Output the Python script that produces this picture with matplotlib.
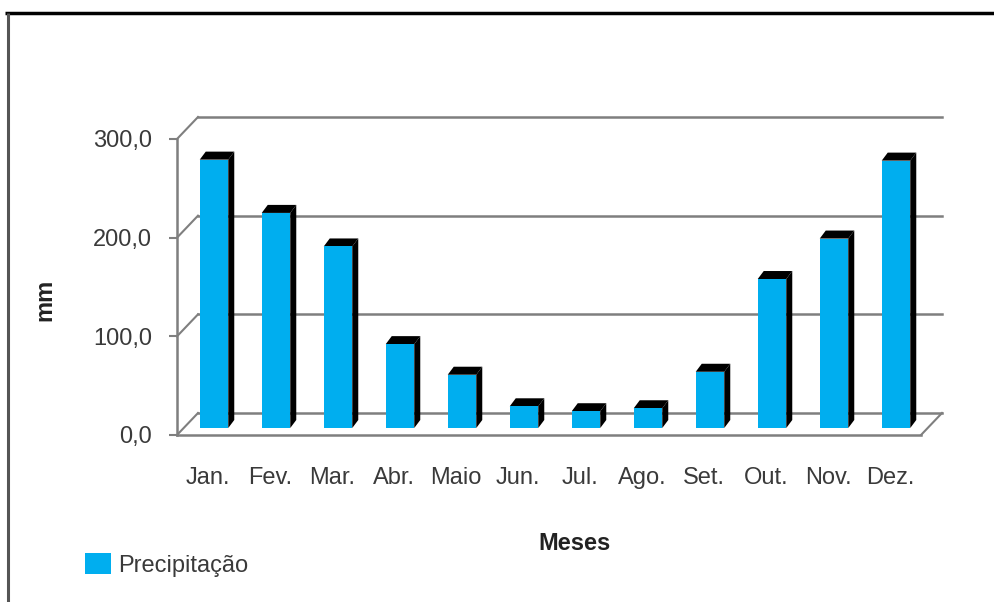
import matplotlib
matplotlib.use("Agg")
import matplotlib.pyplot as plt
from matplotlib.lines import Line2D
from matplotlib.patches import Polygon
from matplotlib.ticker import FuncFormatter

meses = ["Jan.", "Fev.", "Mar.", "Abr.", "Maio", "Jun.", "Jul.", "Ago.",
         "Set.", "Out.", "Nov.", "Dez."]
precipitacao = [272, 218, 184, 85, 54, 22, 17, 20, 57, 151, 192, 271]
yticks = [0, 100, 200, 300]

plt.rcParams["font.family"] = ["Liberation Sans", "DejaVu Sans"]
txt = "#3a3a3a"
blue = "#00aeef"
grid = "#7f7f7f"

W, H = 994, 602
fig = plt.figure(figsize=(W / 100, H / 100), dpi=100)

# front plane of the 3-D box
ax = fig.add_axes([177 / W, (H - 435) / H, 744 / W, 296 / H])
ax.set_xlim(-0.5, 11.5)
ax.set_ylim(0, 300)
ax.patch.set_visible(False)

# pixel -> data conversions for the fake depth
px_x = 12.0 / 744
px_y = 300.0 / 296

# back wall / floor
bdx, bdy = 21 * px_x, 22 * px_y
for v in yticks:
    ax.plot([-0.5 + bdx, 11.5 + bdx], [v + bdy, v + bdy], color=grid, lw=1.8,
            clip_on=False, zorder=1)
    ax.plot([-0.5, -0.5 + bdx], [v, v + bdy], color=grid, lw=1.5,
            clip_on=False, zorder=1)
ax.plot([11.5, 11.5 + bdx], [0, bdy], color=grid, lw=1.5, clip_on=False, zorder=1)

# bars: front face + black side and top
cdx, cdy = 6 * px_x, 7 * px_y
sdx, sdy = 6 * px_x, 8 * px_y
w = 0.46
xs = [i + cdx for i in range(len(meses))]
bars = ax.bar(xs, precipitacao, width=w, bottom=cdy, color=blue,
              label="Precipitação", clip_on=False, zorder=3)
for x, v in zip(xs, precipitacao):
    xl, xr = x - w / 2, x + w / 2
    top = v + cdy
    ax.add_patch(Polygon([(xr, cdy), (xr, top), (xr + sdx, top + sdy),
                          (xr + sdx, cdy + sdy)], closed=True,
                         facecolor="black", edgecolor="none",
                         clip_on=False, zorder=2))
    ax.add_patch(Polygon([(xl, top), (xr, top), (xr + sdx, top + sdy),
                          (xl + sdx, top + sdy)], closed=True,
                         facecolor="black", edgecolor="none",
                         clip_on=False, zorder=2))

for s in ["top", "right"]:
    ax.spines[s].set_visible(False)
for s in ["left", "bottom"]:
    ax.spines[s].set_color(grid)
    ax.spines[s].set_linewidth(1.8)

ax.set_yticks(yticks)
ax.yaxis.set_major_formatter(FuncFormatter(lambda v, p: f"{v:.1f}".replace(".", ",")))
ax.tick_params(axis="y", length=6, width=1.5, color=grid, pad=12,
               labelsize=17, labelcolor=txt)
ax.set_xticks(range(len(meses)))
ax.set_xticklabels(meses)
ax.tick_params(axis="x", length=0, pad=23, labelsize=17, labelcolor=txt)

fig.text(45 / W, 1 - 300 / H, "mm", rotation=90, ha="center", va="center",
         fontsize=17, fontweight="bold", color="#222222")
fig.text(575 / W, 1 - 543 / H, "Meses", ha="center", va="center",
         fontsize=17, fontweight="bold", color="#222222")

fig.legend(handles=[bars], labels=["Precipitação"], loc="center left",
           bbox_to_anchor=(85 / W, 1 - 565 / H), frameon=False, fontsize=17,
           labelcolor=txt, handlelength=1.1, handleheight=0.95,
           handletextpad=0.3, borderpad=0, borderaxespad=0)

# outer frame
fig.add_artist(Line2D([5 / W, 1], [1 - 13 / H, 1 - 13 / H], color="black",
                      lw=2.5, solid_capstyle="butt"))
fig.add_artist(Line2D([8 / W, 8 / W], [0, 1 - 13 / H], color="#555555",
                      lw=2.2, solid_capstyle="butt"))

fig.savefig("out.png", dpi=100)
